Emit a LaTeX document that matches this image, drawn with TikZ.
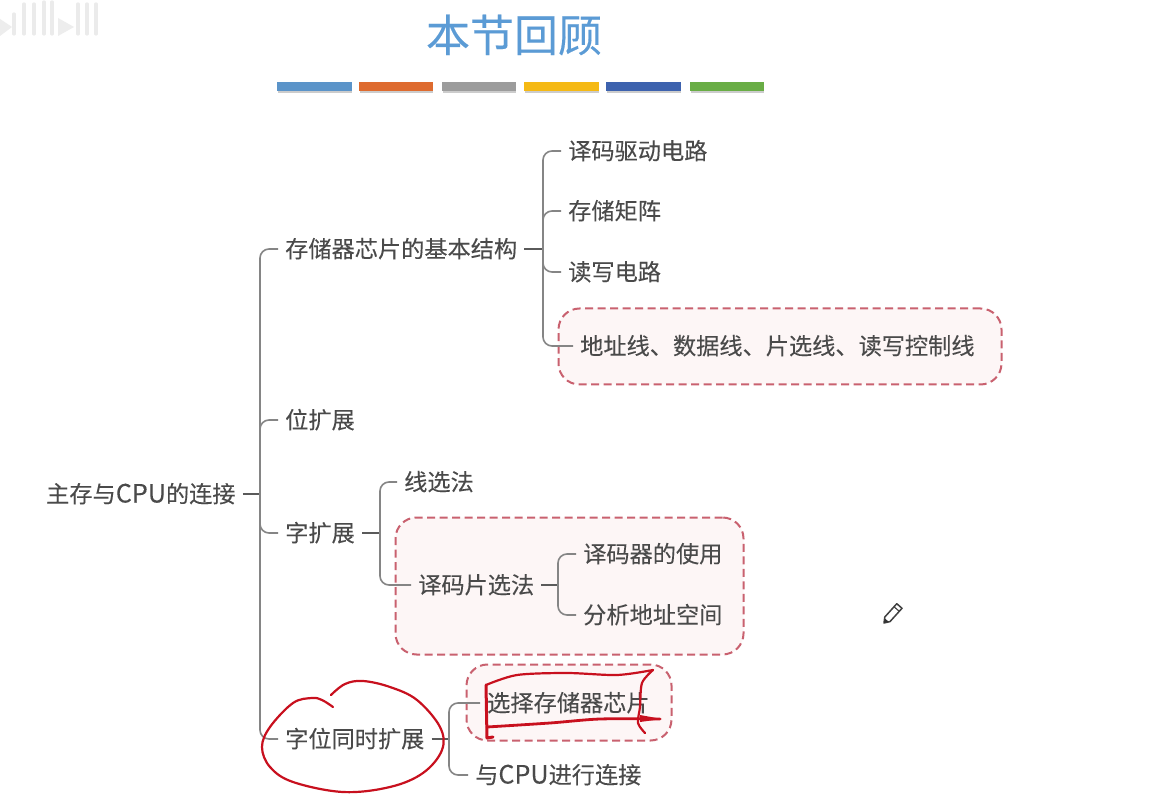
\documentclass[tikz,border=0pt]{standalone}
\usepackage{fontspec}
\setmainfont[FakeBold=0.12]{Noto Sans CJK SC}
\newfontfamily\titlefont[FakeBold=0.25]{Noto Sans CJK SC}
\newcommand{\cpuword}{{\fontsize{25.2}{25}\selectfont CPU}}
\definecolor{txt}{HTML}{4A4A4A}
\definecolor{linec}{HTML}{858585}
\definecolor{stubc}{HTML}{5A5A5A}
\definecolor{boxf}{HTML}{FDF6F6}
\definecolor{boxd}{HTML}{C9616F}
\definecolor{ink}{HTML}{C8101E}
\definecolor{titlec}{HTML}{5B9BD5}
\tikzset{
  item/.style={anchor=west,inner xsep=7,inner ysep=0,text height=19,text depth=2,text=txt,font=\fontsize{23.2}{25}\selectfont},
  conn/.style={draw=linec,line width=1.6,rounded corners=9},
  stub/.style={draw=stubc,line width=1.8},
  hilite/.style={draw=boxd,fill=boxf,line width=2,dashed,dash pattern=on 8pt off 4.5pt,rounded corners=21,inner sep=0,anchor=north west},
  barshadow/.style={fill=black!20,draw=none},
  redpen/.style={draw=ink,line width=2.2,line cap=round,line join=round},
  wm/.style={draw=black!8,line width=3.2,line cap=round}
}
\begin{document}
\begin{tikzpicture}[x=1pt,y=-1pt]
\useasboundingbox (0,0) rectangle (1152,802);
\fill[white] (0,0) rectangle (1152,802);
% watermark
\foreach \a/\b/\c in {14/14/34,24/4/34,34/4/34,44/2/34,52/2/34,78/4/34,87/4/34,96/4/34}
  \draw[wm] (\a,\b) -- (\a,\c);
\fill[black!7] (0,19) -- (12,27) -- (0,36) -- cycle;
\fill[black!7] (58,18) -- (74,27) -- (58,36) -- cycle;
% title and bars
\node[font=\titlefont\fontsize{44}{48}\selectfont,text=titlec,inner sep=0] (title) at (514,35) {本节回顾};
\foreach \n/\a/\b/\col in {1/277/352/5B94C9,2/359/433/DE6B2F,3/442/516/9C9C9C,4/524/599/F5B914,5/606/681/3D62AE,6/690/764/69AD45}{
  \definecolor{bc}{HTML}{\col}
  \fill[barshadow] (\a+1,85) rectangle (\b,93);
  \fill[bc] (\a,82) rectangle (\b,91);
}
% highlight boxes
\node[hilite,minimum width=443,minimum height=76] (box1) at (557.5,307.5) {};
\node[hilite,minimum width=348,minimum height=137] (box2) at (394.5,516.5) {};
\node[hilite,minimum width=205,minimum height=76] (box3) at (465.5,663.5) {};
% nodes
\node[item] (root) at (39,494) {主存与\cpuword 的连接};
\node[item] (a) at (278,249) {存储器芯片的基本结构};
\node[item] (b) at (278,420) {位扩展};
\node[item] (c) at (278,533) {字扩展};
\node[item] (d) at (278,739) {字位同时扩展};
\node[item] (a1) at (561,151) {译码驱动电路};
\node[item] (a2) at (561,211) {存储矩阵};
\node[item] (a3) at (561,272) {读写电路};
\node[item] (a4) at (573,346) {地址线、数据线、片选线、读写控制线};
\node[item] (c1) at (397,482) {线选法};
\node[item] (c2) at (411,585) {译码片选法};
\node[item] (c21) at (576,554) {译码器的使用};
\node[item] (c22) at (576,615) {分析地址空间};
\node[item] (d1) at (480,703) {选择存储器芯片};
\node[item] (d2) at (468,775) {与\cpuword 进行连接};
% bus positions
\coordinate (bus0) at (260,0);
\coordinate (busa) at (543,0);
\coordinate (busc) at (380,0);
\coordinate (busc2) at (558,0);
\coordinate (busd) at (449,0);
% connectors
\draw[stub] (root.east) -- (bus0 |- root.east);
\foreach \k in {a,b,c,d} \draw[conn] (bus0 |- root.east) |- (\k.west);
\draw[stub] (a.east) -- (busa |- a.east);
\foreach \k in {a1,a2,a3,a4} \draw[conn] (busa |- a.east) |- (\k.west);
\draw[stub] (c.east) -- (busc |- c.east);
\foreach \k in {c1,c2} \draw[conn] (busc |- c.east) |- (\k.west);
\draw[stub] (c2.east) -- (busc2 |- c2.east);
\foreach \k in {c21,c22} \draw[conn] (busc2 |- c2.east) |- (\k.west);
\draw[stub] (d.east) -- (busd |- d.east);
\foreach \k in {d1,d2} \draw[conn] (busd |- d.east) |- (\k.west);
% red pen strokes
\draw[redpen] plot[smooth,tension=0.6] coordinates {(333,707)(322,700)(312,698)(293,703)(270,727)(262,747)(270,767)(293,782)(343,792)(390,787)(423,773)(442,750)(440,727)(417,700)(390,687)(363,681)(345,684)(331,695)};
\draw[redpen] plot[smooth,tension=0.5] coordinates {(486,685)(517,675)(567,673)(617,675)(653,670)};
\draw[redpen] plot[smooth,tension=0.5] coordinates {(653,670)(642,683)(640,707)(638,723)(645,733)};
\draw[redpen,line width=3] (486,685) -- (487,738) -- (493,737);
\draw[redpen,line width=2.8] plot[smooth,tension=0.5] coordinates {(487,727)(550,723)(600,719)(660,719)};
\fill[ink] (640,715) -- (662,719) -- (640,722) -- cycle;
% pencil icon
\draw[black!75,line width=1.5,line join=round,fill=white] (884,623) -- (884.8,617) -- (896.8,603.7) -- (902,608.3) -- (890,621.6) -- cycle;
\draw[black!75,line width=1.1] (894,606.7) -- (899.2,611.3);
\fill[black!80] (884,623) -- (885,618.5) -- (888.5,621.6) -- cycle;
\end{tikzpicture}
\end{document}
